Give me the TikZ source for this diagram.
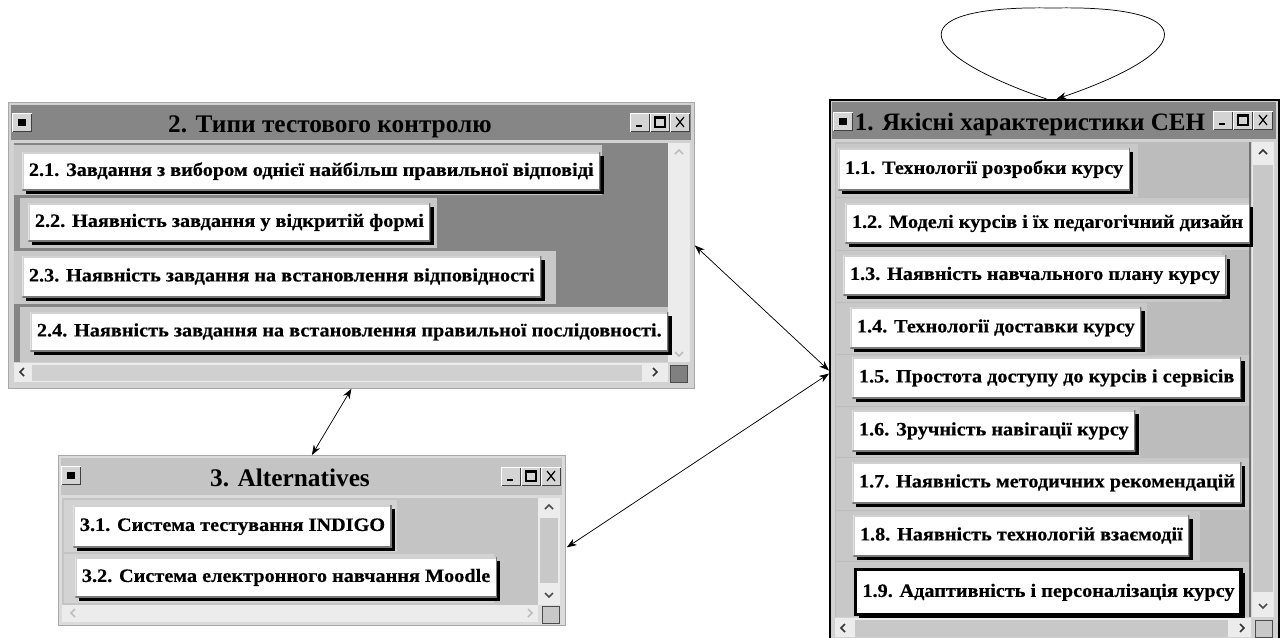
\documentclass[tikz,border=0pt]{standalone}
\usepackage{fontspec}
\setmainfont{Liberation Serif}
\newfontfamily\widefam[FakeStretch=1.07,FakeBold=0.4]{Liberation Serif}
\usetikzlibrary{arrows.meta,shadows,calc}

\definecolor{framegrey}{HTML}{D2D2D2}
\definecolor{frameedge}{HTML}{A8A8A8}
\definecolor{titledark}{HTML}{868686}
\definecolor{titlelight}{HTML}{C4C4C4}
\definecolor{panedark}{HTML}{858585}
\definecolor{panelight}{HTML}{BCBCBC}
\definecolor{rowlight}{HTML}{C8C8C8}
\definecolor{track}{HTML}{ECECEC}
\definecolor{thumb}{HTML}{C8C8C8}
\definecolor{btnface}{HTML}{D4D4D4}
\definecolor{btnshade}{HTML}{7A7A7A}
\definecolor{glyphoff}{HTML}{BDBDBD}

\newcommand\itemfont{\widefam\fontsize{14.2}{16}\selectfont\bfseries}
\newcommand\titlefont{\fontsize{19}{22}\selectfont\bfseries}
\newcommand\bigtitlefont{\fontsize{18.8}{22}\selectfont\bfseries}

% bevelled little button: x, y, width, height (pixel units)
\newcommand\bevelbox[4]{%
  \fill[btnface] (#1,#2) rectangle ++(#3,#4);
  \draw[white, line width=0.9pt] (#1+0.5,#2+#4-0.5) |- (#1+#3-0.5,#2+0.5);
  \draw[black!75, line width=0.9pt] (#1+0.5,#2+#4-0.5) -| (#1+#3-0.5,#2+0.5);
}
% minimise / maximise / close buttons of a title bar
\newcommand\wincontrols[2]{%
  \bevelbox{#1}{#2}{20}{19}
  \bevelbox{#1+20}{#2}{20}{19}
  \bevelbox{#1+40}{#2}{20}{19}
  \draw[black, line width=1.6pt] (#1+6,#2+13) -- (#1+12,#2+13);
  \draw[black, line width=0.8pt] (#1+25,#2+4) rectangle (#1+35,#2+14);
  \draw[black, line width=1.5pt] (#1+25,#2+4.5) -- (#1+35,#2+4.5);
  \draw[black, line width=0.9pt] (#1+46,#2+4) -- (#1+54,#2+14) (#1+46,#2+14) -- (#1+54,#2+4);
}
% system-menu icon at the left of a title bar
\newcommand\winicon[2]{%
  \bevelbox{#1}{#2}{20}{19}
  \fill[black] (#1+6,#2+6) rectangle ++(8,7);
}
% scroll arrows: centre x, centre y, colour
\newcommand\chevup[3]{\draw[#3, line width=1.1pt] (#1-4,#2+2) -- (#1,#2-2) -- (#1+4,#2+2);}
\newcommand\chevdown[3]{\draw[#3, line width=1.1pt] (#1-4,#2-2) -- (#1,#2+2) -- (#1+4,#2-2);}
\newcommand\chevleft[3]{\draw[#3, line width=1.1pt] (#1+2,#2-4) -- (#1-2,#2) -- (#1+2,#2+4);}
\newcommand\chevright[3]{\draw[#3, line width=1.1pt] (#1-2,#2-4) -- (#1+2,#2) -- (#1-2,#2+4);}
% size grip: x, y, fill
\newcommand\grip[3]{\fill[#3] (#1,#2) rectangle ++(17,17);
  \draw[black!70, line width=0.6pt] (#1,#2) rectangle ++(17,17);}

\tikzset{
  itembtn/.style={anchor=north west, fill=white, font=\itemfont,
    inner xsep=5pt, inner ysep=0pt, text height=10pt, text depth=3pt,
    minimum height=#1*0.75pt,
    general shadow={fill=black, shadow xshift=2.6pt, shadow yshift=-2.6pt},
    path picture={
      \draw[line width=2.4pt, black!18] (path picture bounding box.south west) |- (path picture bounding box.north east);
      \draw[line width=2pt, btnshade] (path picture bounding box.south west) -| (path picture bounding box.north east);
    }},
  itembtn/.default=40,
  winframe/.style={anchor=north west, inner sep=0pt, fill=framegrey, draw=frameedge, line width=0.6pt},
  link/.style={{Stealth[length=7.5pt,width=5.5pt]}-{Stealth[length=7.5pt,width=5.5pt]}, line width=0.55pt},
  looplink/.style={-{Stealth[length=7.5pt,width=5.5pt]}, line width=0.55pt},
}

\begin{document}
\begin{tikzpicture}[x=0.75pt,y=-0.75pt]
\useasboundingbox (0,0) rectangle (1285,637);

% ---------------- window 2 ----------------
\node[winframe, minimum width={686*0.75pt}, minimum height={286*0.75pt}] (w2) at (8,102) {};
\fill[titledark] (11,105) rectangle (691,140);
\winicon{12}{113}
\wincontrols{630}{113}
\node[font=\titlefont, anchor=base] (t2) at (330,132) {2. Типи тестового контролю};
\fill[panedark] (14,143) rectangle (668,362);
\fill[rowlight] (14,145) rectangle (602,195);
\fill[rowlight] (20,198) rectangle (437,248);
\fill[rowlight] (14,251) rectangle (556,304);
\fill[rowlight] (20,307) rectangle (668,362);
\fill[track] (668,143) rectangle (690,362);
\chevup{679}{152}{glyphoff}
\chevdown{679}{354}{glyphoff}
\fill[track] (14,363) rectangle (668,382);
\fill[thumb!85] (32,365) rectangle (642,381);
\chevleft{22}{372}{black!80}
\chevright{655}{372}{black!80}
\grip{670}{365}{black!50}
\node[itembtn=38] (i21) at (22,152) {2.1. Завдання з вибором однієї найбільш правильної відповіді};
\node[itembtn=38] (i22) at (28,203) {2.2. Наявність завдання у відкритій формі};
\node[itembtn=41] (i23) at (22,256) {2.3. Наявність завдання на встановлення відповідності};
\node[itembtn=39] (i24) at (30,312) {2.4. Наявність завдання на встановлення правильної послідовності.};

% ---------------- window 3 ----------------
\node[winframe, fill=framegrey!80, minimum width={507*0.75pt}, minimum height={170*0.75pt}] (w3) at (58,455) {};
\fill[titlelight] (61,458) rectangle (562,495);
\winicon{61}{466}
\wincontrols{501}{467}
\node[font=\titlefont, anchor=base] (t3) at (290,486) {3. Alternatives};
\fill[titlelight] (62,498) rectangle (538,605);
\fill[rowlight!80] (64,500) rectangle (397,552);
\fill[rowlight!80] (64,554) rectangle (494,603);
\fill[track] (538,498) rectangle (560,605);
\fill[thumb] (540,518) rectangle (558,583);
\chevup{549}{507}{black!70}
\chevdown{549}{595}{black!70}
\fill[track] (62,605) rectangle (538,622);
\chevleft{73}{613}{glyphoff}
\chevright{530}{613}{glyphoff}
\grip{542}{606}{thumb}
\node[itembtn=42] (i31) at (73,505) {3.1. Система тестування INDIGO};
\node[itembtn=40] (i32) at (75,557) {3.2. Система електронного навчання Moodle};

% ---------------- window 1 ----------------
\node[winframe, draw=black, line width=1.6pt, minimum width={449*0.75pt}, minimum height={541*0.75pt}] (w1) at (829,99) {};
\fill[titledark] (832,102) rectangle (1276,139);
\winicon{833}{112}
\wincontrols{1213}{111}
\node[font=\bigtitlefont, anchor=base] (t1) at (1030,130) {1. Якісні характеристики СЕН};
\fill[panelight] (835,142) rectangle (1251,617);
\fill[rowlight] (836,144) rectangle (1138,197);
\fill[rowlight] (836,198) rectangle (1251,250);
\fill[rowlight] (836,251) rectangle (1222,302);
\fill[rowlight] (836,303) rectangle (1147,354);
\fill[rowlight] (836,355) rectangle (1251,406);
\fill[rowlight] (836,407) rectangle (1140,457);
\fill[rowlight] (836,458) rectangle (1251,510);
\fill[rowlight] (836,511) rectangle (1200,561);
\fill[rowlight] (836,562) rectangle (1251,617);
\draw[black!55, line width=0.8pt] (1250,142) -- (1250,617);
\fill[track] (1252,142) rectangle (1274,617);
\fill[thumb] (1253,165) rectangle (1273,592);
\chevup{1263}{152}{black!80}
\chevdown{1263}{606}{black!70}
\fill[track] (835,618) rectangle (1251,637);
\fill[thumb] (855,620) rectangle (1228,637);
\chevleft{843}{628}{black!80}
\chevright{1242}{628}{black!80}
\grip{1255}{620}{thumb}
\node[itembtn=42] (i11) at (838,148) {1.1. Технології розробки курсу};
\node[itembtn=40] (i12) at (845,203) {1.2. Моделі курсів і їх педагогічний дизайн};
\node[itembtn=40] (i13) at (843,255) {1.3. Наявність навчального плану курсу};
\node[itembtn=41] (i14) at (850,307) {1.4. Технології доставки курсу};
\node[itembtn=41] (i15) at (852,357) {1.5. Простота доступу до курсів і сервісів};
\node[itembtn=41] (i16) at (852,410) {1.6. Зручність навігації курсу};
\node[itembtn=41] (i17) at (852,462) {1.7. Наявність методичних рекомендацій};
\node[itembtn=41] (i18) at (853,515) {1.8. Наявність технологій взаємодії};
\node[itembtn=45, draw=black, line width=2.6pt] (i19) at (854,568) {1.9. Адаптивність і персоналізація курсу};

% ---------------- connectors ----------------
\draw[link] (w2.east) -- (w1.west);
\draw[link] ($(w3.east)+(1,7)$) -- ($(w1.west)+(0,3)$);
\draw[link] (w2.south) -- (w3.north);
\draw[looplink] ($(w1.north)+(-8,0)$) .. controls (905,50) and (905,5) .. (1053,8)
  .. controls (1200,5) and (1200,50) .. ($(w1.north)+(2,0)$);
\end{tikzpicture}
\end{document}
